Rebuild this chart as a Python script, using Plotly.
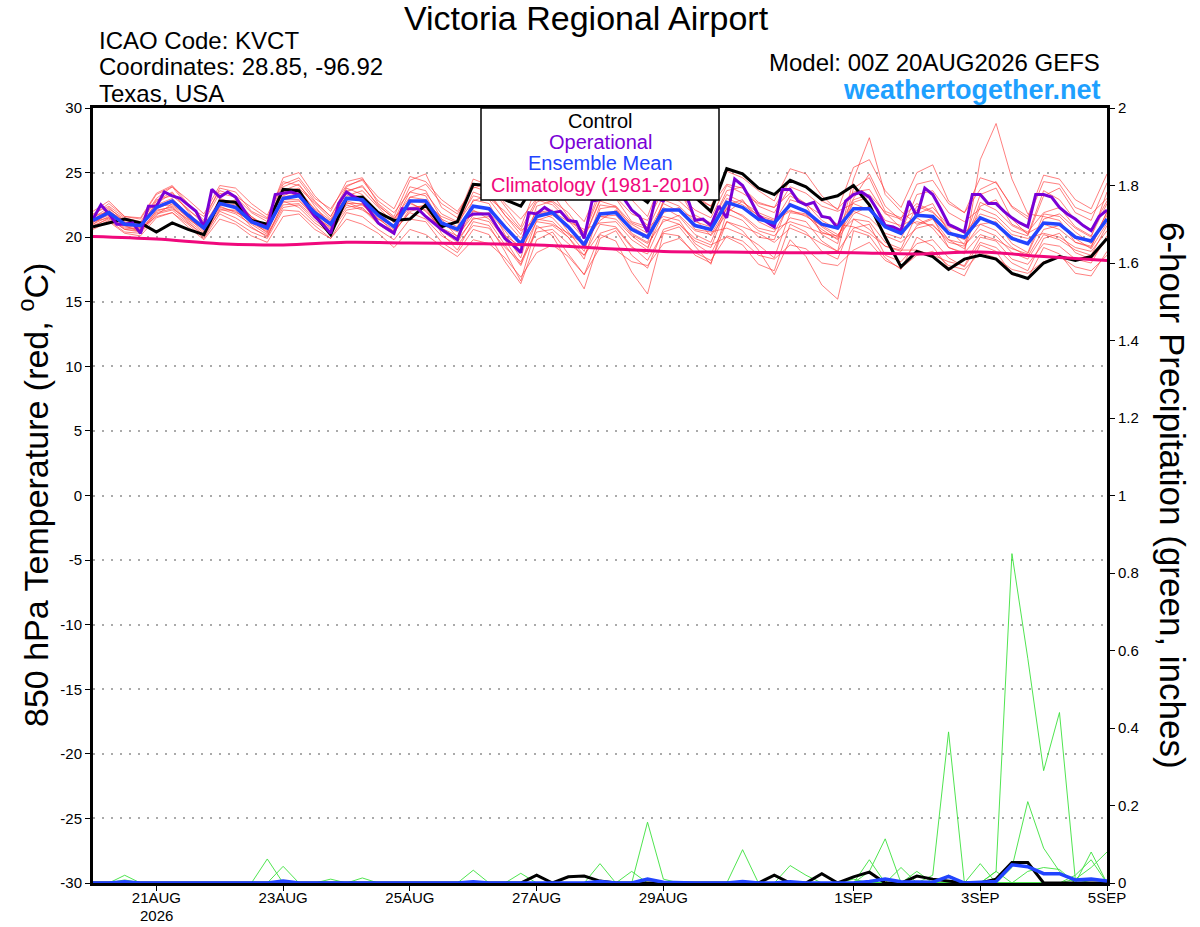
import pandas as pd
import plotly.graph_objects as go

# time axes
times_6h = pd.date_range('2026-08-20 00:00', periods=65, freq='6h')
times_3h = pd.date_range('2026-08-20 00:00', periods=129, freq='3h')
times_day = pd.date_range('2026-08-20 00:00', periods=17, freq='D')

# 850 hPa temperature, control run (6-hourly)
control_t = [20.8, 21.1, 21.4, 21.1, 20.4, 21.1, 20.6, 20.2, 22.8, 22.7, 21.3, 21.0, 23.7,
             23.6, 21.7, 20.2, 23.0, 23.1, 21.9, 21.3, 21.4, 22.5, 20.8, 21.2, 24.1, 24.0,
             22.9, 22.4, 24.3, 24.6, 23.9, 23.5, 24.7, 24.4, 23.6, 22.7, 24.5, 24.0, 23.1,
             22.0, 25.3, 24.9, 23.8, 23.3, 24.4, 23.9, 22.9, 23.2, 24.0, 22.5, 20.0, 17.7,
             18.9, 18.5, 17.5, 18.3, 18.6, 18.3, 17.2, 16.8, 18.0, 18.5, 18.2, 18.5, 19.9]

# operational run (3-hourly)
oper_t = [21.4, 22.5, 21.8, 21.0, 21.0, 21.1, 20.3, 22.4, 22.4, 23.5, 23.2, 23.0, 22.5,
          22.0, 20.8, 23.7, 23.1, 23.5, 23.1, 22.1, 21.2, 21.0, 20.8, 23.3, 23.4, 23.5,
          23.3, 22.4, 21.6, 21.0, 20.3, 22.6, 23.5, 23.1, 22.8, 22.0, 21.1, 20.7, 20.3,
          22.2, 22.2, 22.2, 21.6, 21.1, 20.6, 20.2, 19.8, 21.5, 21.8, 21.8, 21.8, 20.8,
          19.9, 19.4, 18.8, 21.9, 21.8, 22.3, 21.9, 22.0, 21.3, 21.2, 19.9, 22.8, 22.9,
          23.5, 24.0, 23.0, 22.1, 21.6, 20.4, 23.0, 22.8, 24.0, 23.8, 23.1, 21.3, 21.4,
          20.9, 22.4, 21.5, 24.5, 24.0, 22.9, 21.7, 21.2, 20.8, 23.7, 23.7, 22.8, 22.5,
          22.7, 21.6, 21.5, 20.7, 22.8, 23.3, 23.5, 23.1, 22.1, 20.9, 20.8, 20.5, 22.8,
          21.6, 23.8, 23.3, 22.2, 21.0, 20.7, 20.4, 23.3, 23.3, 22.6, 22.6, 22.0, 21.5,
          21.1, 20.8, 23.3, 23.3, 23.1, 22.3, 21.8, 21.4, 20.9, 20.5, 21.6, 22.1]

# ensemble mean (6-hourly)
mean_t = [21.3, 21.9, 21.0, 20.9, 22.3, 22.8, 21.7, 20.7, 22.6, 22.3, 21.2, 20.7, 23.0,
          23.2, 21.9, 21.0, 23.0, 22.9, 21.7, 20.8, 22.8, 22.8, 21.1, 20.6, 22.4, 22.2,
          20.8, 19.5, 21.6, 21.9, 20.8, 19.4, 21.8, 21.9, 20.6, 20.0, 22.1, 22.1, 20.9,
          20.6, 22.7, 22.3, 21.4, 21.1, 22.5, 22.0, 21.0, 20.7, 22.2, 22.2, 20.8, 20.3,
          21.7, 21.6, 20.3, 20.0, 21.5, 21.0, 19.9, 19.5, 21.1, 21.0, 20.0, 19.7, 21.4]

# climatology 1981-2010 (daily)
clim_t = [20.05, 19.85, 19.5, 19.4, 19.6, 19.55, 19.5, 19.4, 19.15, 18.9, 18.85, 18.8,
          18.8, 18.7, 18.85, 18.5, 18.2]

# ensemble members (6-hourly)
member_t = [
    [22.0, 22.8, 21.6, 21.5, 23.4, 24.0, 22.6, 21.3, 23.8, 23.5, 22.0, 21.4, 24.6, 25.0, 23.2, 22.0,
     24.3, 24.6, 22.6, 21.6, 24.4, 24.9, 22.3, 21.5, 24.5, 24.0, 22.4, 20.8, 23.9, 24.1, 22.5, 21.2,
     24.0, 24.6, 22.9, 21.6, 24.8, 25.1, 23.0, 22.4, 25.1, 24.6, 23.6, 22.8, 25.3, 24.9, 23.2, 22.1,
     25.4, 26.0, 23.6, 22.3, 25.0, 25.6, 22.8, 21.9, 24.6, 24.2, 22.4, 21.6, 24.8, 24.5, 22.9, 22.2, 24.9],
    [20.6, 21.2, 20.3, 20.1, 21.5, 21.9, 20.8, 19.8, 21.4, 21.0, 20.1, 19.6, 21.6, 21.8, 20.6, 19.9,
     21.4, 21.0, 20.3, 19.2, 20.6, 20.2, 19.3, 18.5, 19.8, 19.5, 18.4, 16.9, 18.8, 19.4, 18.5, 17.1,
     19.2, 19.0, 18.1, 17.8, 19.5, 19.9, 18.8, 18.2, 20.1, 19.7, 18.6, 18.3, 19.4, 19.1, 18.0, 17.8,
     19.0, 19.6, 18.2, 17.6, 18.6, 18.9, 17.8, 17.5, 18.8, 18.4, 17.5, 17.2, 18.1, 18.5, 17.7, 17.4, 18.6],
    [21.5, 22.3, 21.2, 20.7, 22.8, 23.5, 22.0, 20.5, 23.0, 22.6, 21.5, 20.9, 23.6, 24.1, 22.4, 20.9,
     23.8, 23.3, 22.0, 21.3, 23.9, 23.6, 21.4, 20.0, 22.9, 22.6, 20.2, 18.4, 22.4, 22.8, 21.9, 20.3,
     23.3, 23.0, 21.2, 20.8, 21.6, 21.3, 19.5, 18.7, 21.2, 20.8, 20.3, 19.6, 20.7, 20.2, 19.5, 18.9,
     23.8, 24.6, 22.0, 21.5, 22.6, 22.0, 20.6, 19.4, 20.6, 20.1, 18.8, 18.3, 20.2, 19.8, 19.0, 18.6, 20.9],
    [21.0, 21.6, 20.8, 20.6, 22.0, 22.4, 21.3, 20.3, 22.2, 21.8, 21.0, 20.2, 22.5, 22.6, 21.5, 20.8,
     22.6, 22.6, 21.0, 20.3, 22.2, 22.5, 20.5, 19.6, 21.5, 21.2, 19.4, 17.8, 20.7, 20.9, 20.0, 18.6,
     21.0, 20.8, 19.3, 18.2, 20.4, 20.8, 19.3, 17.9, 21.9, 22.8, 21.6, 21.2, 23.2, 22.5, 21.7, 21.0,
     20.8, 20.3, 19.3, 18.9, 20.9, 21.4, 19.8, 19.1, 22.4, 22.9, 21.0, 20.4, 21.9, 22.3, 20.8, 20.1, 22.6],
    [21.8, 22.4, 21.5, 21.2, 23.0, 23.9, 22.4, 21.6, 23.6, 23.2, 22.3, 21.5, 24.1, 24.6, 23.0, 22.2,
     24.0, 24.4, 22.8, 21.9, 23.5, 24.1, 22.6, 21.8, 23.9, 23.5, 21.7, 20.2, 22.7, 23.3, 21.6, 20.0,
     22.9, 23.1, 21.8, 21.3, 23.6, 23.3, 22.1, 21.5, 24.0, 23.4, 22.6, 22.3, 23.4, 22.6, 21.3, 20.6,
     23.0, 24.9, 22.4, 21.3, 22.1, 22.6, 20.4, 19.8, 23.3, 23.8, 21.4, 20.2, 23.6, 22.9, 21.3, 20.6, 22.8],
    [20.9, 21.4, 20.6, 20.5, 21.8, 22.1, 21.1, 20.2, 22.0, 21.5, 20.7, 20.1, 22.3, 22.5, 21.3, 20.4,
     22.1, 22.3, 21.1, 20.5, 21.9, 21.4, 20.1, 19.4, 20.9, 20.7, 19.2, 18.1, 20.4, 20.6, 19.5, 18.6,
     20.3, 20.7, 19.2, 18.7, 21.4, 21.0, 19.7, 19.2, 22.3, 21.6, 20.5, 20.1, 21.5, 21.2, 19.7, 18.9,
     20.7, 21.0, 18.6, 18.1, 19.5, 19.8, 18.4, 17.7, 19.6, 19.2, 18.0, 17.4, 19.9, 20.3, 18.8, 18.3, 19.8],
    [21.4, 22.1, 21.1, 20.8, 22.5, 23.0, 21.8, 20.9, 22.9, 22.7, 21.6, 20.8, 23.4, 23.5, 22.2, 21.3,
     23.2, 23.6, 22.3, 21.1, 23.5, 23.2, 21.0, 20.4, 22.0, 21.8, 19.9, 19.0, 21.9, 22.1, 20.4, 18.9,
     22.5, 22.3, 20.3, 19.6, 22.7, 23.6, 21.4, 20.1, 21.8, 21.3, 20.0, 19.8, 22.9, 22.5, 20.2, 19.5,
     24.5, 27.7, 23.3, 22.0, 21.0, 21.5, 19.2, 18.7, 26.0, 28.8, 24.5, 21.8, 21.6, 21.3, 19.6, 19.3, 21.7],
    [20.8, 21.5, 20.7, 20.6, 21.6, 21.9, 21.0, 19.9, 21.8, 21.2, 20.4, 19.9, 22.1, 22.0, 20.9, 19.9,
     21.9, 21.6, 20.6, 19.8, 21.4, 21.2, 19.6, 18.8, 20.6, 20.2, 18.1, 16.4, 19.8, 20.4, 18.7, 17.1,
     20.2, 19.7, 17.3, 15.6, 20.3, 20.1, 18.6, 18.0, 21.2, 20.5, 19.0, 17.1, 19.8, 18.5, 16.3, 15.2,
     20.5, 20.1, 18.4, 17.5, 20.0, 19.3, 17.6, 17.0, 19.4, 18.9, 17.1, 16.8, 19.2, 18.7, 17.2, 17.0, 18.9],
    [21.6, 22.0, 21.3, 21.0, 22.6, 23.4, 22.1, 21.2, 23.4, 23.1, 21.9, 21.2, 23.9, 24.4, 22.8, 21.6,
     23.6, 23.9, 22.5, 21.4, 23.1, 23.4, 21.8, 21.2, 23.2, 22.9, 21.3, 19.9, 22.0, 21.5, 20.2, 19.5,
     21.3, 22.1, 21.0, 20.3, 22.6, 22.0, 21.5, 21.0, 23.6, 23.9, 22.4, 21.9, 23.9, 23.4, 22.4, 22.0,
     22.6, 22.1, 21.0, 20.4, 23.3, 23.6, 21.9, 21.2, 22.2, 21.7, 20.5, 20.1, 23.2, 23.8, 21.9, 21.3, 24.2],
    [21.2, 21.7, 20.9, 20.7, 22.4, 22.5, 21.5, 20.6, 22.3, 22.0, 21.2, 20.5, 22.9, 22.9, 21.7, 20.7,
     22.5, 22.1, 21.4, 20.9, 22.3, 22.4, 20.7, 20.1, 21.7, 21.9, 20.5, 18.9, 21.2, 21.0, 20.3, 19.6,
     21.6, 21.4, 20.1, 19.2, 21.9, 22.3, 20.6, 20.4, 20.7, 20.2, 19.4, 18.4, 21.9, 21.7, 20.6, 19.8,
     21.8, 22.4, 20.1, 19.6, 20.7, 21.0, 19.6, 19.3, 21.0, 20.5, 19.2, 18.5, 20.6, 20.9, 19.9, 19.1, 21.1],
    [21.1, 22.2, 21.4, 21.1, 22.9, 23.2, 22.2, 21.0, 22.5, 22.9, 21.6, 20.6, 22.8, 22.3, 21.1, 20.3,
     22.7, 22.2, 21.0, 20.2, 23.1, 22.9, 21.4, 20.8, 23.5, 23.0, 22.0, 20.6, 22.9, 22.5, 21.3, 19.9,
     22.8, 22.4, 21.1, 20.6, 23.2, 22.8, 21.7, 21.1, 23.3, 22.7, 21.9, 21.4, 22.1, 21.6, 20.9, 20.2,
     21.4, 21.2, 19.6, 19.1, 21.8, 22.3, 20.9, 20.3, 21.8, 21.4, 20.2, 19.9, 20.3, 20.0, 19.2, 18.9, 20.5],
    [20.7, 21.3, 20.4, 20.3, 21.7, 22.6, 21.6, 20.8, 22.7, 22.5, 21.3, 20.3, 23.2, 23.7, 22.1, 21.1,
     22.8, 22.5, 21.4, 20.6, 22.6, 22.1, 20.6, 19.9, 22.1, 21.4, 19.8, 17.9, 21.3, 21.7, 20.9, 19.2,
     21.6, 21.7, 20.2, 19.5, 21.2, 21.7, 20.5, 20.2, 22.2, 21.7, 20.7, 20.4, 22.6, 21.9, 20.8, 20.0,
     22.7, 23.1, 21.3, 20.9, 21.5, 20.7, 19.2, 18.8, 20.2, 19.8, 19.1, 18.7, 21.4, 21.8, 20.7, 20.0, 23.5],
    [21.3, 21.8, 21.0, 21.1, 22.2, 22.7, 21.5, 20.4, 22.4, 21.9, 21.4, 20.9, 23.5, 23.8, 22.6, 21.4,
     23.4, 23.1, 21.9, 20.9, 22.9, 22.6, 21.6, 21.1, 22.8, 23.3, 21.7, 20.5, 21.4, 21.2, 20.0, 18.3,
     22.2, 22.4, 20.8, 20.1, 22.3, 21.6, 20.2, 19.6, 22.5, 22.9, 21.2, 20.6, 21.2, 20.8, 20.3, 20.1,
     22.0, 21.5, 20.3, 19.9, 22.4, 21.9, 20.8, 20.4, 21.0, 21.2, 19.5, 18.8, 21.8, 21.6, 20.4, 19.5, 21.9],
    [21.0, 21.9, 20.9, 20.4, 22.1, 22.3, 21.2, 20.0, 22.1, 22.1, 20.8, 20.0, 22.7, 22.8, 21.6, 20.6,
     22.3, 22.5, 21.5, 20.4, 22.0, 22.3, 20.3, 19.0, 21.2, 20.9, 18.9, 16.6, 20.9, 20.1, 18.0, 16.0,
     19.9, 20.5, 18.6, 17.6, 20.6, 21.0, 19.9, 19.4, 20.0, 19.4, 17.9, 17.4, 21.0, 20.4, 18.9, 18.3,
     21.4, 20.6, 19.3, 19.0, 19.0, 18.6, 18.1, 17.8, 20.0, 19.7, 18.3, 17.9, 19.5, 19.3, 18.3, 18.0, 20.1],
    [21.7, 22.6, 21.6, 21.4, 23.3, 23.9, 22.9, 21.8, 24.0, 23.8, 22.6, 21.7, 24.3, 24.0, 22.7, 21.6,
     23.9, 24.5, 23.1, 22.2, 24.7, 24.3, 22.9, 22.0, 23.8, 24.2, 22.6, 21.4, 23.0, 22.7, 21.5, 20.4,
     23.7, 23.8, 22.2, 20.9, 24.4, 24.7, 23.2, 22.4, 24.1, 23.8, 22.7, 22.3, 24.4, 23.9, 22.8, 22.2,
     23.5, 23.7, 21.8, 21.4, 24.1, 24.4, 22.6, 21.9, 23.7, 24.3, 22.3, 21.4, 24.3, 24.1, 22.3, 21.8, 23.0],
    [21.2, 21.5, 20.6, 20.4, 21.9, 22.2, 21.4, 20.6, 22.5, 22.4, 21.1, 20.4, 23.1, 23.4, 22.0, 21.2,
     23.5, 24.0, 22.4, 21.5, 22.7, 22.0, 20.6, 19.8, 21.4, 21.6, 20.1, 19.3, 21.8, 22.0, 21.2, 20.6,
     21.1, 21.2, 19.8, 19.0, 22.9, 22.4, 21.2, 20.8, 23.0, 22.5, 21.7, 21.3, 22.0, 21.8, 20.4, 19.9,
     22.9, 23.3, 21.9, 20.7, 21.2, 20.9, 19.8, 19.5, 22.7, 22.1, 20.9, 20.3, 21.0, 20.6, 19.6, 19.2, 22.0],
]

# 6-hour precipitation (inches)
control_p = [0, 0, 0, 0, 0, 0, 0, 0, 0, 0, 0, 0, 0,
             0, 0, 0, 0, 0, 0, 0, 0, 0, 0, 0, 0, 0,
             0, 0, 0.02, 0, 0.016, 0.018, 0.005, 0, 0, 0, 0, 0, 0,
             0, 0, 0, 0, 0.02, 0, 0, 0.024, 0, 0.016, 0.028, 0, 0,
             0.018, 0.01, 0.005, 0, 0, 0.01, 0.053, 0.053, 0, 0, 0, 0, 0]
mean_p = [0, 0, 0.003, 0, 0, 0, 0, 0, 0, 0, 0, 0, 0.005,
          0, 0, 0, 0, 0, 0, 0, 0, 0, 0, 0, 0.003, 0,
          0, 0, 0, 0, 0, 0, 0.004, 0, 0, 0.01, 0.002, 0, 0,
          0, 0, 0.004, 0, 0, 0.003, 0, 0, 0, 0, 0.004, 0.01, 0.003,
          0.003, 0.002, 0.017, 0, 0.002, 0.004, 0.047, 0.042, 0.024, 0.024, 0.008, 0.01, 0.005]
member_p = [
    [0, 0, 0.02, 0, 0, 0, 0, 0, 0, 0, 0, 0, 0,
     0, 0, 0, 0, 0, 0, 0, 0, 0, 0, 0, 0, 0,
     0, 0, 0, 0, 0, 0, 0, 0, 0, 0, 0, 0, 0,
     0, 0, 0, 0, 0, 0, 0, 0, 0, 0, 0, 0, 0,
     0, 0, 0, 0, 0, 0.03, 0.85, 0.58, 0.29, 0.44, 0.01, 0, 0],
    [0, 0, 0, 0, 0, 0, 0, 0, 0, 0, 0, 0, 0,
     0, 0, 0, 0, 0.013, 0, 0, 0, 0, 0, 0, 0, 0,
     0, 0, 0, 0, 0, 0, 0, 0, 0, 0.157, 0.01, 0, 0,
     0, 0, 0, 0, 0, 0, 0, 0, 0, 0, 0, 0, 0,
     0, 0.02, 0.39, 0, 0, 0, 0, 0, 0, 0, 0, 0, 0],
    [0, 0, 0, 0, 0, 0, 0, 0, 0, 0, 0, 0.062, 0,
     0, 0, 0, 0, 0, 0, 0, 0, 0, 0, 0, 0, 0,
     0, 0, 0, 0, 0, 0, 0, 0, 0, 0, 0, 0, 0,
     0, 0, 0, 0, 0, 0, 0, 0, 0, 0, 0.03, 0.114, 0,
     0, 0, 0, 0, 0, 0, 0.04, 0.21, 0.09, 0.03, 0, 0, 0],
    [0, 0, 0, 0, 0, 0, 0, 0, 0, 0, 0, 0, 0.043,
     0, 0, 0, 0, 0, 0, 0, 0, 0, 0, 0, 0, 0,
     0, 0, 0, 0, 0, 0, 0, 0, 0, 0, 0, 0, 0,
     0, 0, 0.086, 0, 0, 0, 0, 0, 0, 0, 0, 0, 0,
     0, 0, 0, 0, 0, 0, 0, 0, 0, 0, 0, 0.08, 0],
    [0, 0, 0.008, 0, 0, 0, 0, 0, 0, 0, 0, 0, 0,
     0, 0, 0, 0, 0, 0, 0, 0, 0, 0, 0, 0.033, 0,
     0, 0, 0, 0, 0, 0, 0.05, 0, 0, 0, 0, 0, 0,
     0, 0, 0, 0, 0, 0, 0, 0, 0, 0, 0.06, 0, 0,
     0, 0, 0, 0, 0.05, 0, 0, 0, 0, 0, 0.01, 0.04, 0.08],
    [0, 0, 0, 0, 0, 0, 0, 0, 0, 0, 0, 0, 0,
     0, 0, 0, 0, 0, 0, 0, 0, 0, 0, 0, 0, 0,
     0, 0.025, 0, 0, 0, 0, 0, 0, 0, 0, 0, 0, 0,
     0, 0, 0, 0, 0, 0.045, 0.02, 0, 0, 0.01, 0, 0, 0,
     0.03, 0, 0, 0, 0, 0, 0, 0.03, 0.04, 0.035, 0, 0, 0],
    [0, 0, 0, 0, 0, 0, 0, 0, 0, 0, 0, 0, 0,
     0, 0, 0.01, 0, 0, 0, 0, 0, 0, 0, 0, 0, 0,
     0, 0, 0, 0, 0, 0, 0, 0, 0.03, 0, 0, 0, 0,
     0, 0, 0, 0, 0, 0, 0, 0, 0, 0, 0, 0, 0.04,
     0, 0, 0.02, 0, 0, 0.03, 0, 0, 0, 0, 0.02, 0.06, 0],
]

xticks = ['2026-08-21', '2026-08-23', '2026-08-25', '2026-08-27', '2026-08-29',
          '2026-09-01', '2026-09-03', '2026-09-05']
xlabels = ['21AUG', '23AUG', '25AUG', '27AUG', '29AUG', '1SEP', '3SEP', '5SEP']
yticks = [-30, -25, -20, -15, -10, -5, 0, 5, 10, 15, 20, 25, 30]
ylabels = ['-30', '-25', '-20', '-15', '-10', '-5', '0', '5', '10', '15', '20', '25', '30']
y2ticks = [0, 0.2, 0.4, 0.6, 0.8, 1, 1.2, 1.4, 1.6, 1.8, 2]
y2labels = ['0', '0.2', '0.4', '0.6', '0.8', '1', '1.2', '1.4', '1.6', '1.8', '2']

FONT = 'Liberation Sans, Arial, sans-serif'
RED = 'rgba(255,55,55,0.8)'
GREEN = 'rgb(60,225,60)'
BLACK = 'black'
PURPLE = '#7a00d6'
BLUE = '#2244ff'
PINK = '#f0087c'

fig = go.Figure()

for m in member_t:
    fig.add_trace(go.Scatter(x=times_6h, y=m, mode='lines',
                             line=dict(color=RED, width=0.8), hoverinfo='skip'))

for p in member_p:
    fig.add_trace(go.Scatter(x=times_6h, y=p, mode='lines', yaxis='y2',
                             line=dict(color=GREEN, width=0.9), hoverinfo='skip'))
fig.add_trace(go.Scatter(x=times_6h, y=control_p, mode='lines', yaxis='y2',
                         line=dict(color=BLACK, width=3)))
fig.add_trace(go.Scatter(x=times_6h, y=mean_p, mode='lines', yaxis='y2',
                         line=dict(color=BLUE, width=3.5)))

fig.add_trace(go.Scatter(x=times_6h, y=control_t, mode='lines', line=dict(color=BLACK, width=3)))
fig.add_trace(go.Scatter(x=times_3h, y=oper_t, mode='lines', line=dict(color=PURPLE, width=3)))
fig.add_trace(go.Scatter(x=times_6h, y=mean_t, mode='lines', line=dict(color=BLUE, width=3.5)))
fig.add_trace(go.Scatter(x=times_day, y=clim_t, mode='lines',
                         line=dict(color=PINK, width=3, shape='spline')))

W, H = 1200, 927
L, R, T, B = 93, 93, 108, 44
pw, ph = W - L - R, H - T - B


def px(x):
    return (x - L) / pw


def py(y):
    return (H - B - y) / ph


annots = [
    dict(text='Victoria Regional Airport', x=px(586), y=py(18), font=dict(size=34)),
    dict(text='ICAO Code: KVCT', x=px(97), y=py(40), xanchor='left', font=dict(size=24)),
    dict(text='Coordinates: 28.85, -96.92', x=px(97), y=py(66), xanchor='left', font=dict(size=24)),
    dict(text='Texas, USA', x=px(97), y=py(93), xanchor='left', font=dict(size=24)),
    dict(text='Model: 00Z 20AUG2026 GEFS', x=px(1102), y=py(63), xanchor='right', font=dict(size=24)),
    dict(text='<b>weathertogether.net</b>', x=px(1103), y=py(90), xanchor='right',
         font=dict(size=27, color='#1ea0ff')),
    dict(text='Control', x=0.5, y=py(121), font=dict(size=20)),
    dict(text='Operational', x=0.5, y=py(142), font=dict(size=20, color=PURPLE)),
    dict(text='Ensemble Mean', x=0.5, y=py(163), font=dict(size=20, color=BLUE)),
    dict(text='Climatology (1981-2010)', x=0.5, y=py(185), font=dict(size=20, color=PINK)),
    dict(text='850 hPa Temperature (red, <sup>o</sup>C)', x=px(33), y=py(495), textangle=-90,
         font=dict(size=34)),
    dict(text='6-hour Precipitation (green, inches)', x=px(1173), y=py(495), textangle=90,
         font=dict(size=35)),
    dict(text='2026', x=px(156), y=py(915), font=dict(size=15)),
]
for a in annots:
    a.setdefault('xanchor', 'center')
    a.update(xref='paper', yref='paper', yanchor='middle', showarrow=False)
    a['font'].setdefault('color', 'black')
    a['font']['family'] = FONT

fig.update_layout(
    width=W, height=H,
    margin=dict(l=L, r=R, t=T, b=B),
    paper_bgcolor='white', plot_bgcolor='white',
    showlegend=False,
    font=dict(family=FONT, size=15, color='black'),
    annotations=annots,
    shapes=[dict(type='rect', xref='paper', yref='paper', x0=px(481), x1=px(719),
                 y0=py(200), y1=1.0, fillcolor='white', line=dict(color='black', width=1.5),
                 layer='above')],
    xaxis=dict(range=['2026-08-20 00:00', '2026-09-05 00:00'], tickvals=xticks, ticktext=xlabels,
               showgrid=False, showline=True, linecolor='black', linewidth=3, mirror=True,
               ticks='outside', ticklen=5, tickcolor='black', tickfont=dict(size=15),
               ticklabelstandoff=-6, automargin=False),
    yaxis=dict(range=[-30, 30], tickvals=yticks, ticktext=ylabels, showgrid=True,
               gridcolor='#aaaaaa', griddash='2px,7px', gridwidth=1.5, zeroline=False,
               showline=True, linecolor='black', linewidth=3, automargin=False,
               ticks='outside', ticklen=5, tickcolor='black', tickfont=dict(size=15)),
    yaxis2=dict(range=[0, 2], tickvals=y2ticks, ticktext=y2labels, overlaying='y', side='right',
                showgrid=False, zeroline=False, showline=True, linecolor='black', linewidth=3,
                automargin=False, ticks='outside', ticklen=5, tickcolor='black',
                tickfont=dict(size=15)),
)

fig.write_html("out.html", config={'displayModeBar': False},
               post_script="document.body.style.margin='0';")
